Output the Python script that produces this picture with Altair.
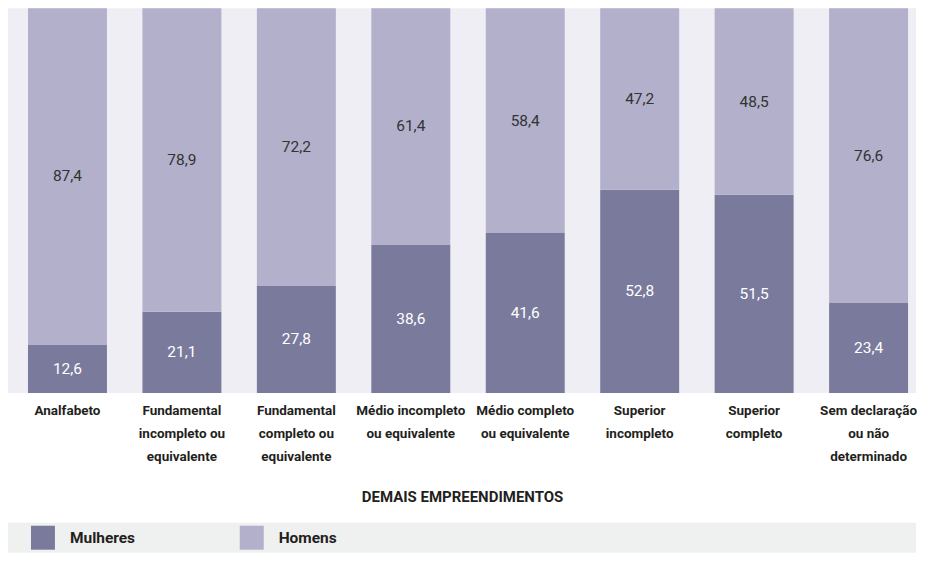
import altair as alt
import pandas as pd

categories = [
    "Analfabeto",
    "Fundamental|incompleto ou|equivalente",
    "Fundamental|completo ou|equivalente",
    "Médio incompleto|ou equivalente",
    "Médio completo|ou equivalente",
    "Superior|incompleto",
    "Superior|completo",
    "Sem declaração|ou não|determinado",
]
mulheres = [12.6, 21.1, 27.8, 38.6, 41.6, 52.8, 51.5, 23.4]
homens = [87.4, 78.9, 72.2, 61.4, 58.4, 47.2, 48.5, 76.6]
series = ["Mulheres", "Homens"]
colors = ["#7a7b9c", "#b2b0cb"]
title_text = "DEMAIS EMPREENDIMENTOS"

rows = []
for i, c in enumerate(categories):
    rows.append({"cat": c, "sexo": "Mulheres", "ordem": 0, "v": mulheres[i]})
    rows.append({"cat": c, "sexo": "Homens", "ordem": 1, "v": homens[i]})
df = pd.DataFrame(rows)

BOLD = "Roboto, DejaVu Sans Condensed, sans-serif"
REG = "Roboto, DejaVu Sans Condensed, sans-serif"

x_enc = alt.X(
    "cat:N",
    sort=categories,
    scale=alt.Scale(paddingInner=0.31, paddingOuter=0.122, align=0.7156),
    axis=alt.Axis(
        title=title_text,
        labelExpr="split(datum.label, '|')",
        labelAngle=0,
        labelFont=BOLD,
        labelFontWeight="bold",
        labelFontSize=13.5,
        labelColor="#231f20",
        labelLineHeight=23,
        labelPadding=11,
        labelBaseline="top",
        labelLimit=200,
        ticks=False,
        domain=False,
        titleFont=BOLD,
        titleFontWeight="bold",
        titleFontSize=15,
        titleColor="#231f20",
        titleBaseline="alphabetic",
        titleY=109,
    ),
)

base = alt.Chart(df)

bars = base.mark_bar().encode(
    x=x_enc,
    y=alt.Y("v:Q", stack="zero", scale=alt.Scale(domain=[0, 100]), axis=None),
    color=alt.Color(
        "sexo:N",
        scale=alt.Scale(domain=series, range=colors),
        legend=alt.Legend(
            title=None,
            orient="none",
            legendX=23,
            legendY=518,
            direction="horizontal",
            symbolType="square",
            symbolSize=576,
            symbolStrokeWidth=0,
            symbolOpacity=1,
            labelFont=BOLD,
            labelFontWeight="bold",
            labelFontSize=15.5,
            labelColor="#231f20",
            labelOffset=15,
            columnPadding=104,
            padding=0,
        ),
    ),
    order=alt.Order("ordem:Q"),
)

labels = (
    base.transform_stack(
        stack="v", groupby=["cat"], as_=["y0", "y1"], sort=[alt.SortField("ordem")]
    )
    .transform_calculate(
        mid="(datum.y0 + datum.y1) / 2",
        txt="replace(format(datum.v, '.1f'), '.', ',')",
    )
    .mark_text(font=REG, fontSize=15.5, baseline="middle")
    .encode(
        x=alt.X("cat:N", sort=categories),
        y=alt.Y("mid:Q"),
        text="txt:N",
        color=alt.condition(
            "datum.sexo == 'Mulheres'", alt.value("#ffffff"), alt.value("#333333")
        ),
    )
)

band = (
    alt.Chart(pd.DataFrame({"a": [0]}))
    .mark_rect(color="#eff0f0")
    .encode(
        x=alt.value(0),
        x2=alt.value(909),
        y=alt.value(515),
        y2=alt.value(545),
    )
)

chart = (
    alt.layer(band, bars, labels)
    .properties(width=909, height=385, padding=0, background="#ffffff")
    .configure_view(fill="#efeef5", strokeWidth=0)
)

chart.save("out.html", embed_options={"renderer": "svg", "actions": False})
